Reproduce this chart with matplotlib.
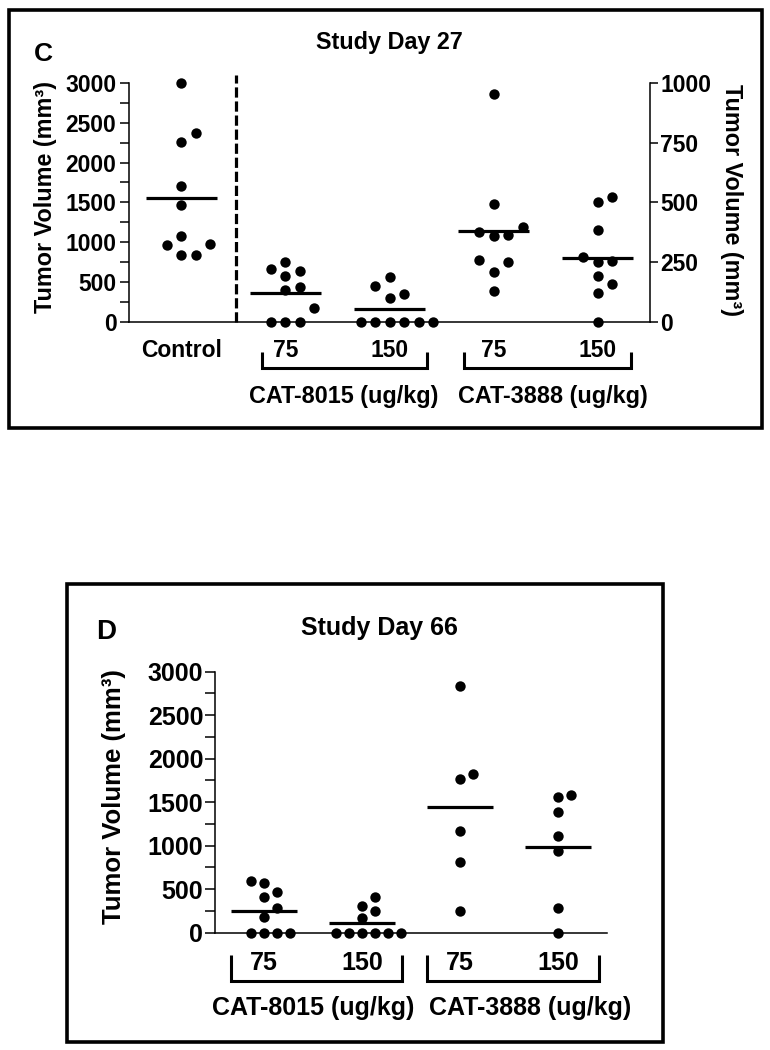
import numpy as np
import matplotlib
matplotlib.use("Agg")
import matplotlib.pyplot as plt
from matplotlib.patches import Rectangle
from matplotlib.lines import Line2D
from matplotlib.ticker import MultipleLocator

plt.rcParams['font.family'] = ['Liberation Sans', 'DejaVu Sans']
plt.rcParams['font.weight'] = 'bold'

# Panel C - study day 27 (control + CAT-8015 on left axis, CAT-3888 on right axis)
c_control = [3000, 2377, 2264, 1711, 1472, 1082, 965, 981, 835, 843]
c_8015_75 = [751, 634, 667, 575, 440, 395, 168, 0, 0, 0]
c_8015_150 = [560, 449, 346, 297, 0, 0, 0, 0, 0, 0]
c_3888_75 = [956, 495, 377, 361, 363, 398, 252, 259, 210, 127]
c_3888_150 = [524, 501, 384, 270, 256, 252, 190, 158, 122, 0]

# Panel D - study day 66
d_8015_75 = [598, 567, 464, 406, 280, 176, 0, 0, 0, 0]
d_8015_150 = [414, 310, 249, 172, 0, 0, 0, 0, 0, 0]
d_3888_75 = [2835, 1827, 1766, 1164, 808, 253]
d_3888_150 = [1586, 1559, 1387, 1111, 935, 280, 0]

c_labels = ['Control', '75', '150', '75', '150']
d_labels = ['75', '150', '75', '150']
drug_labels = ['CAT-8015 (ug/kg)', 'CAT-3888 (ug/kg)']
ylab = 'Tumor Volume (mm\u00b3)'

W, H = 770, 1050
fig = plt.figure(figsize=(W / 100, H / 100), dpi=100)


def fx(px):
    return px / W


def fy(py):
    return 1 - py / H


def ftext(x, y, s, **kw):
    fig.text(fx(x), fy(y), s, ha='center', va='center', fontweight='bold', **kw)


def fline(xs, ys, lw=2.2):
    fig.add_artist(Line2D([fx(v) for v in xs], [fy(v) for v in ys],
                          transform=fig.transFigure, color='black', lw=lw,
                          solid_capstyle='butt', solid_joinstyle='miter'))


def swarm(ax, x0, values, step, mind, half=0.34):
    # simple beeswarm in pixel space, then mean line
    bb = ax.get_window_extent()
    x1, x2 = ax.get_xlim()
    y1, y2 = ax.get_ylim()
    sx = bb.width / (x2 - x1)
    sy = bb.height / (y2 - y1)
    vals = np.asarray(values, dtype=float)
    xs = np.zeros(len(vals))
    placed = []
    for i in np.argsort(vals, kind='stable'):
        ypx = vals[i] * sy
        k = 0
        while True:
            off = ((k + 1) // 2) * (1 if k % 2 else -1) * step
            if all((off - px) ** 2 + (ypx - py) ** 2 >= mind ** 2 for px, py in placed):
                break
            k += 1
        placed.append((off, ypx))
        xs[i] = x0 + off / sx
    ax.scatter(xs, vals, s=56, color='black', zorder=5, clip_on=False, linewidths=0)
    m = vals.mean()
    ax.plot([x0 - half, x0 + half], [m, m], color='black', lw=2.3, zorder=4,
            solid_capstyle='butt', clip_on=False)


# ---------------- panel C ----------------
fig.add_artist(Rectangle((fx(9), fy(428)), fx(762) - fx(9), fy(10) - fy(428),
                         transform=fig.transFigure, fill=False, lw=2.6, ec='black'))

axc = fig.add_axes([fx(129), fy(321.7), fx(650) - fx(129), fy(83) - fy(321.7)])
axc.set_xlim(-0.5, 4.5)
axc.set_ylim(0, 3000)
axc2 = axc.twinx()
axc2.set_ylim(0, 1000)

for a in (axc, axc2):
    a.set_xticks([])
    a.spines['top'].set_visible(False)
    for s in a.spines.values():
        s.set_linewidth(1.1)
axc.spines['right'].set_visible(False)
axc2.spines['left'].set_visible(False)
axc2.spines['bottom'].set_visible(False)

axc.yaxis.set_major_locator(MultipleLocator(500))
axc.yaxis.set_minor_locator(MultipleLocator(250))
axc.tick_params(axis='y', which='both', direction='out', length=6.5, width=1.1,
                labelsize=16.5, pad=2.5)
axc2.yaxis.set_major_locator(MultipleLocator(250))
axc2.tick_params(axis='y', which='both', direction='out', length=6, width=1.1,
                 labelsize=16.5, pad=1.5)
for t in axc.get_yticklabels() + axc2.get_yticklabels():
    t.set_fontweight('bold')

swarm(axc, 0, c_control, 14.5, 14)
swarm(axc, 1, c_8015_75, 14.5, 14)
swarm(axc, 2, c_8015_150, 14.5, 14)
swarm(axc2, 3, c_3888_75, 14.5, 14)
swarm(axc2, 4, c_3888_150, 14.5, 14)

axc.plot([0.53, 0.53], [0, 3100], color='black', lw=2.3, ls=(0, (3.2, 1.2)), clip_on=False)

for i, lab in enumerate(c_labels):
    axc.annotate(lab, xy=(i, 0), xytext=(0, -20.4), textcoords='offset points',
                 ha='center', va='center', fontsize=16.5, fontweight='bold')

fline([262, 262, 427, 427], [352, 368, 368, 352])
fline([464, 464, 631, 631], [352, 368, 368, 352])
ftext(344, 397, drug_labels[0], fontsize=16.8)
ftext(553, 397, drug_labels[1], fontsize=16.8)
ftext(389, 43, 'Study Day 27', fontsize=16.8)
ftext(43, 54, 'C', fontsize=19)
ftext(46, 197, ylab, fontsize=16.8, rotation=90)
ftext(732, 200, ylab, fontsize=16.8, rotation=270)

# ---------------- panel D ----------------
fig.add_artist(Rectangle((fx(67), fy(1042)), fx(663) - fx(67), fy(584) - fy(1042),
                         transform=fig.transFigure, fill=False, lw=2.6, ec='black'))

axd = fig.add_axes([fx(215), fy(932.7), fx(607) - fx(215), fy(671.7) - fy(932.7)])
axd.set_xlim(-0.5, 3.5)
axd.set_ylim(0, 3000)
axd.set_xticks([])
axd.spines['top'].set_visible(False)
axd.spines['right'].set_visible(False)
for s in axd.spines.values():
    s.set_linewidth(1.1)
axd.yaxis.set_major_locator(MultipleLocator(500))
axd.yaxis.set_minor_locator(MultipleLocator(250))
axd.tick_params(axis='y', which='both', direction='out', length=7, width=1.1,
                labelsize=18, pad=1.5)
for t in axd.get_yticklabels():
    t.set_fontweight('bold')

swarm(axd, 0, d_8015_75, 13, 12)
swarm(axd, 1, d_8015_150, 13, 12)
swarm(axd, 2, d_3888_75, 13, 12)
swarm(axd, 3, d_3888_150, 13, 12)

for i, lab in enumerate(d_labels):
    axd.annotate(lab, xy=(i, 0), xytext=(0, -21.8), textcoords='offset points',
                 ha='center', va='center', fontsize=18, fontweight='bold')

fline([231, 231, 402, 402], [955, 981, 981, 955])
fline([427, 427, 599, 599], [955, 981, 981, 955])
ftext(313, 1008, drug_labels[0], fontsize=18)
ftext(530, 1008, drug_labels[1], fontsize=18)
ftext(379, 628, 'Study Day 66', fontsize=18)
ftext(106, 632, 'D', fontsize=20)
ftext(114, 797, ylab, fontsize=18.5, rotation=90)

fig.savefig('out.png', dpi=100)
